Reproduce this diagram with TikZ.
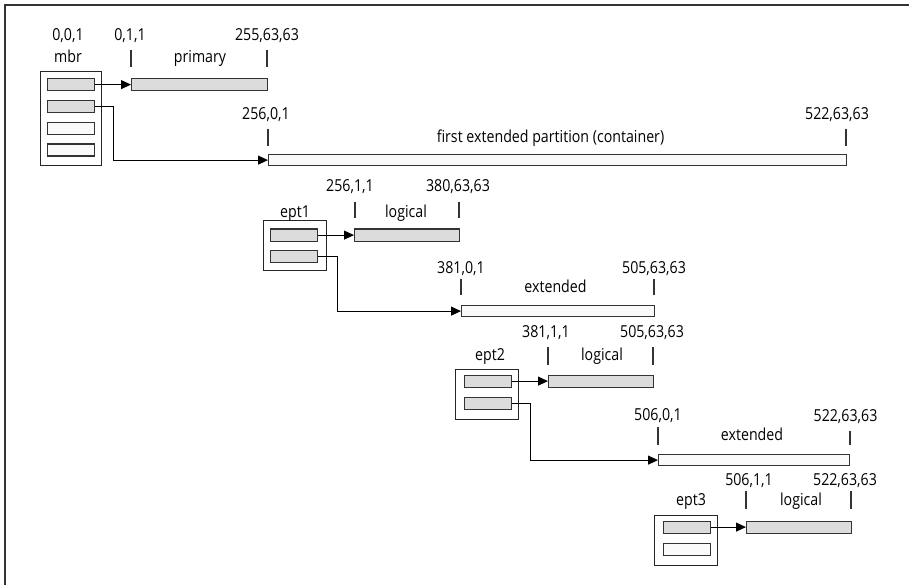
\documentclass[tikz,border=0pt]{standalone}
\usepackage{fontspec}
\setmainfont{Open Sans}[FakeStretch=0.86]
\usetikzlibrary{arrows.meta}
\definecolor{barfill}{HTML}{DCDCDC}
\definecolor{emptyfill}{HTML}{FAFAFA}
\definecolor{edge}{HTML}{333333}
\tikzset{
  every node/.style={font=\fontsize{16.5}{19}\selectfont},
  gbar/.style={draw=edge, line width=1.2pt, fill=barfill, inner sep=0pt, anchor=north west},
  wbar/.style={draw=edge, line width=1.2pt, fill=emptyfill, inner sep=0pt, anchor=north west},
  tblbox/.style={draw=black!85, line width=1.1pt, fill=white, inner sep=0pt, anchor=north west},
  entry/.style={minimum width=47pt, minimum height=12pt},
  tick/.style={draw=edge, line width=1.2pt},
  lbl/.style={anchor=base, inner sep=0pt},
  conn/.style={draw=black, line width=1pt, -{Triangle[length=10pt,width=9pt]}},
}
\begin{document}
\begin{tikzpicture}[x=1pt,y=-1pt]
\useasboundingbox (0,0) rectangle (909,585);
% outer frame (only top and left visible)
\draw[black!80, line width=1.5pt] (5,590) -- (5,5) -- (915,5);

% ---------- MBR ----------
\node[tblbox, minimum width=61pt, minimum height=94pt] (mbr) at (40,71) {};
\node[gbar, entry] (m1) at (47,78) {};
\node[gbar, entry] (m2) at (47,100) {};
\node[wbar, entry] (m3) at (47,122) {};
\node[wbar, entry] (m4) at (47,143.5) {};
\node[lbl] (mbrA) at (68,40.5) {0,0,1};
\node[lbl] (mbrN) at (68,63) {mbr};

\node[gbar, minimum width=136pt, minimum height=12pt] (prim) at (131,78) {};
\draw[tick] (131,50) -- (131,67);
\draw[tick] (267,50) -- (267,67);
\node[lbl] (primA) at (130,40.5) {0,1,1};
\node[lbl] (primB) at (267,40.5) {255,63,63};
\node[lbl] (primN) at (200,63) {primary};

\node[wbar, minimum width=578pt, minimum height=11pt] (cont) at (268,154) {};
\draw[tick] (268,129) -- (268,146);
\draw[tick] (846,129) -- (846,146);
\node[lbl] (contA) at (266,120) {256,0,1};
\node[lbl] (contB) at (837,120) {522,63,63};
\node[lbl] (contN) at (550.5,143) {first extended partition (container)};

\draw[conn] (m1.east) -- (prim.west);
\draw[conn] (m2.east) -- ++(18,0) |- (cont.west);

% ---------- EPT1 ----------
\node[tblbox, minimum width=63pt, minimum height=50pt] (ept1) at (263,220) {};
\node[gbar, entry] (e11) at (270,228.5) {};
\node[gbar, entry] (e12) at (270,250) {};
\node[lbl] (ept1N) at (295,218) {ept1};

\node[gbar, minimum width=105pt, minimum height=12pt] (log1) at (354,228.5) {};
\draw[tick] (355,202) -- (355,218);
\draw[tick] (459,202) -- (459,218);
\node[lbl] (log1A) at (350,192) {256,1,1};
\node[lbl] (log1B) at (458,192) {380,63,63};
\node[lbl] (log1N) at (406,218) {logical};

\node[wbar, minimum width=193pt, minimum height=11pt] (ext1) at (461,305) {};
\draw[tick] (461,279) -- (461,295);
\draw[tick] (654,279) -- (654,295);
\node[lbl] (ext1A) at (461,273) {381,0,1};
\node[lbl] (ext1B) at (654,273) {505,63,63};
\node[lbl] (ext1N) at (555.5,292.5) {extended};

\draw[conn] (e11.east) -- (log1.west);
\draw[conn] (e12.east) -- ++(19,0) |- (ext1.west);

% ---------- EPT2 ----------
\node[tblbox, minimum width=63pt, minimum height=50pt] (ept2) at (454.5,368.5) {};
\node[gbar, entry] (e21) at (464,374.5) {};
\node[gbar, entry] (e22) at (464,396.5) {};
\node[lbl] (ept2N) at (490,360.5) {ept2};

\node[gbar, minimum width=105pt, minimum height=12pt] (log2) at (548,374.5) {};
\draw[tick] (548,347) -- (548,365);
\draw[tick] (653,347) -- (653,365);
\node[lbl] (log2A) at (546,337) {381,1,1};
\node[lbl] (log2B) at (652,337) {505,63,63};
\node[lbl] (log2N) at (602,360.5) {logical};

\node[wbar, minimum width=191pt, minimum height=11pt] (ext2) at (658,454) {};
\draw[tick] (658,427) -- (658,445);
\draw[tick] (850,431) -- (850,445);
\node[lbl] (ext2A) at (658,420) {506,0,1};
\node[lbl] (ext2B) at (845.5,421) {522,63,63};
\node[lbl] (ext2N) at (752,440) {extended};

\draw[conn] (e21.east) -- (log2.west);
\draw[conn] (e22.east) -- ++(18,0) |- (ext2.west);

% ---------- EPT3 ----------
\node[tblbox, minimum width=63pt, minimum height=50pt] (ept3) at (653.5,514.5) {};
\node[gbar, entry] (e31) at (662.5,520.5) {};
\node[wbar, entry] (e32) at (662.5,542.5) {};
\node[lbl] (ept3N) at (691,505) {ept3};

\node[gbar, minimum width=105pt, minimum height=12pt] (log3) at (746,520.5) {};
\draw[tick] (746,491) -- (746,509);
\draw[tick] (851,491) -- (851,509);
\node[lbl] (log3A) at (749,485) {506,1,1};
\node[lbl] (log3B) at (845,485) {522,63,63};
\node[lbl] (log3N) at (801,505) {logical};

\draw[conn] (e31.east) -- (log3.west);
\end{tikzpicture}
\end{document}
